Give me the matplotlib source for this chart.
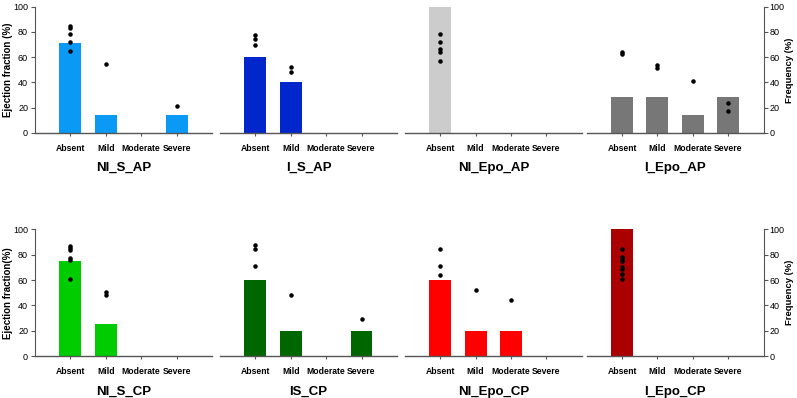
import matplotlib.pyplot as plt

plt.switch_backend('agg')
plt.rcParams['font.family'] = ['Liberation Sans', 'DejaVu Sans']

categories = ['Absent', 'Mild', 'Moderate', 'Severe']

# 上排：AP
titles_ap = ['NI_S_AP', 'I_S_AP', 'NI_Epo_AP', 'I_Epo_AP']
colors_ap = ['#0A9AF6', '#0026CC', '#CCCCCC', '#777777']
freq_ap = [
    [71.4, 14.3, 0, 14.3],
    [60, 40, 0, 0],
    [100, 0, 0, 0],
    [28.6, 28.6, 14.3, 28.6],
]
ef_ap = [
    [[84.5, 83.4, 78.4, 72.1, 65.3], [54.5], [], [21]],
    [[77.9, 74.2, 69.5], [52.6, 48.4], [], []],
    [[78.4, 72.1, 66.8, 64.2, 57.1], [], [], []],
    [[64.5, 62.2], [54.2, 51.5], [41], [23.7, 17.6]],
]

# 下排：CP
titles_cp = ['NI_S_CP', 'IS_CP', 'NI_Epo_CP', 'I_Epo_CP']
colors_cp = ['#00CC00', '#006600', '#FF0000', '#AA0000']
freq_cp = [
    [75, 25, 0, 0],
    [60, 20, 0, 20],
    [60, 20, 20, 0],
    [100, 0, 0, 0],
]
ef_cp = [
    [[87, 85.5, 83.5, 77.5, 76, 61.2], [50.7, 48.6], [], []],
    [[87.9, 84.3, 71.4], [48.3], [], [29.1]],
    [[84.5, 71.4, 64.3], [52.2], [44.1], []],
    [[84.5, 78, 76.5, 75.3, 70.3, 68.3, 65.1, 61.2], [], [], []],
]

fig = plt.figure(figsize=(7.97, 3.98), dpi=100)

lefts = [0.044, 0.276, 0.508, 0.736]
width = 0.222


def draw_row(bottom, height, titles, colors, freqs, efs, ylab):
    for i in range(4):
        ax = fig.add_axes([lefts[i], bottom, width, height])
        x = list(range(len(categories)))
        ax.bar(x, freqs[i], width=0.62, color=colors[i], zorder=1)
        for j in x:
            if efs[i][j]:
                ax.scatter([j] * len(efs[i][j]), efs[i][j], s=5, color='black', zorder=3)
        ax.set_xlim(-1, 4)
        ax.set_ylim(0, 100)
        ax.set_xticks(x)
        ax.set_xticklabels(categories, fontsize=6.2, fontweight='bold')
        ax.tick_params(axis='x', length=2, color='#555555', pad=6)
        for s in ['top', 'right', 'left']:
            ax.spines[s].set_visible(False)
        ax.spines['bottom'].set_color('#555555')
        ax.spines['bottom'].set_linewidth(1.0)
        ax.set_yticks([0, 20, 40, 60, 80, 100])
        ax.tick_params(axis='y', labelsize=6.5, length=3, pad=2, color='#555555')
        if i == 0:
            ax.spines['left'].set_visible(True)
            ax.spines['left'].set_color('#555555')
            ax.set_ylabel(ylab, fontsize=7, fontweight='bold', labelpad=0)
        elif i == 3:
            ax.spines['right'].set_visible(True)
            ax.spines['right'].set_color('#555555')
            ax.yaxis.tick_right()
            ax.tick_params(axis='y', pad=1.5)
            ax.yaxis.set_label_position('right')
            ax.set_ylabel('Frequency (%)', fontsize=6.8, fontweight='bold', labelpad=0)
        else:
            ax.set_yticks([])
        ax.set_title(titles[i], y=-0.37, fontsize=9.5, fontweight='bold')


draw_row(0.666, 0.317, titles_ap, colors_ap, freq_ap, ef_ap, 'Ejection fraction (%)')
draw_row(0.105, 0.319, titles_cp, colors_cp, freq_cp, ef_cp, 'Ejection fraction(%)')

plt.savefig('out.png', dpi=100)
plt.close()
